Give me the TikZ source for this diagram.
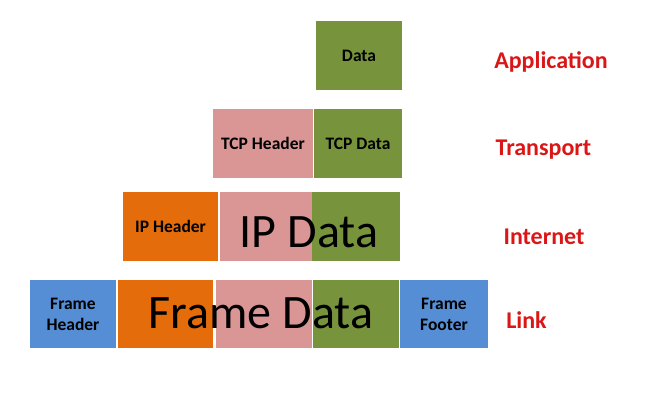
\documentclass[tikz,border=0pt]{standalone}
\usepackage{fontspec}
\setmainfont{Carlito}
\usetikzlibrary{positioning}
\definecolor{leaf}{RGB}{119,147,60}
\definecolor{rose}{RGB}{217,150,148}
\definecolor{rust}{RGB}{228,108,10}
\definecolor{sky}{RGB}{85,142,213}
\definecolor{layerred}{RGB}{218,22,22}
\begin{document}
\begin{tikzpicture}[x=1pt,y=1pt,
 box/.style={anchor=north west,minimum height=69pt,inner sep=0pt,outer sep=0pt,align=center,font=\fontsize{17.5}{21}\selectfont\bfseries},
 big/.style={anchor=base,inner sep=0pt,font=\fontsize{48}{50}\selectfont},
 layer/.style={anchor=base,inner sep=0pt,text=layerred,font=\fontsize{24}{26}\selectfont\bfseries}]
\useasboundingbox[fill=white] (0,0) rectangle (645,-404);
% application
\node[box,fill=leaf,minimum width=86pt] (data) at (316,-21) {Data};
% transport
\node[box,fill=rose,minimum width=100pt] (tcph) at (213,-109) {TCP Header};
\node[box,fill=leaf,minimum width=88pt,right=1pt of tcph] (tcpd) {TCP Data};
% internet
\node[box,fill=rust,minimum width=95pt] (iph) at (123,-192) {IP Header};
\node[box,fill=rose,minimum width=92pt,right=2pt of iph] (ipp) {};
\node[box,fill=leaf,minimum width=88pt,right=0pt of ipp] (ipg) {};
\node[big] (ipdata) at (309,-247) {IP Data};
% link
\node[box,fill=sky,minimum width=86pt,minimum height=68pt] (fh) at (30,-280) {Frame\\Header};
\node[box,fill=rust,minimum width=95pt,minimum height=68pt,right=2pt of fh] (fo) {};
\node[box,fill=rose,minimum width=96pt,minimum height=68pt,right=3pt of fo] (fp) {};
\node[box,fill=leaf,minimum width=86pt,minimum height=68pt,right=1pt of fp] (fg) {};
\node[box,fill=sky,minimum width=88pt,minimum height=68pt,right=1pt of fg] (ff) {Frame\\Footer};
\node[big] (framedata) at (261,-328) {Frame Data};
% layer names
\node[layer] (app) at (551,-68) {Application};
\node[layer] (trans) at (543.5,-155) {Transport};
\node[layer] (inet) at (544,-244) {Internet};
\node[layer] (link) at (526.5,-328) {Link};
\end{tikzpicture}
\end{document}
